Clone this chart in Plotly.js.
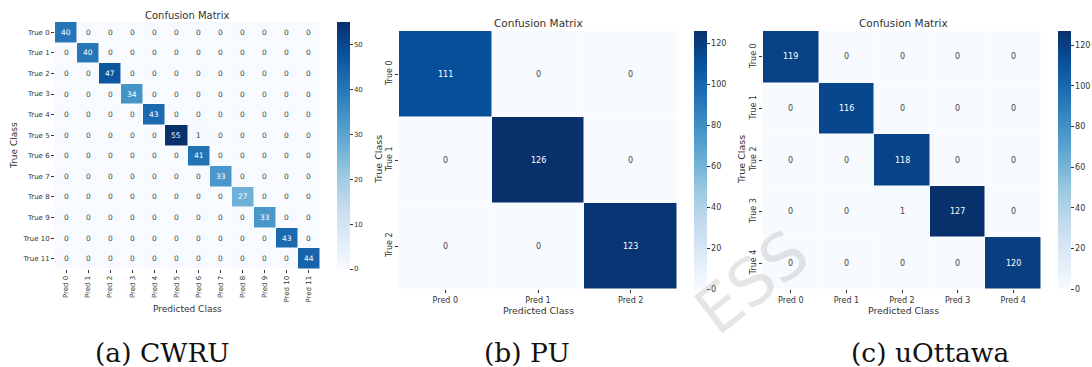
<!DOCTYPE html>
<html>
<head>
<meta charset="utf-8">
<script src="https://cdn.plot.ly/plotly-3.0.1.min.js"></script>
<style>html,body{margin:0;padding:0;background:#fff;}#chart{width:1092px;height:367px;}</style>
</head>
<body>
<div id="chart"></div>
<script>
// ---------- data ----------
const cwruPred = ["Pred 0","Pred 1","Pred 2","Pred 3","Pred 4","Pred 5","Pred 6","Pred 7","Pred 8","Pred 9","Pred 10","Pred 11"];
const cwruTrue = ["True 0","True 1","True 2","True 3","True 4","True 5","True 6","True 7","True 8","True 9","True 10","True 11"];
const cwruZ = [
  [40,0,0,0,0,0,0,0,0,0,0,0],
  [0,40,0,0,0,0,0,0,0,0,0,0],
  [0,0,47,0,0,0,0,0,0,0,0,0],
  [0,0,0,34,0,0,0,0,0,0,0,0],
  [0,0,0,0,43,0,0,0,0,0,0,0],
  [0,0,0,0,0,55,1,0,0,0,0,0],
  [0,0,0,0,0,0,41,0,0,0,0,0],
  [0,0,0,0,0,0,0,33,0,0,0,0],
  [0,0,0,0,0,0,0,0,27,0,0,0],
  [0,0,0,0,0,0,0,0,0,33,0,0],
  [0,0,0,0,0,0,0,0,0,0,43,0],
  [0,0,0,0,0,0,0,0,0,0,0,44]
];
const puPred = ["Pred 0","Pred 1","Pred 2"];
const puTrue = ["True 0","True 1","True 2"];
const puZ = [
  [111,0,0],
  [0,126,0],
  [0,0,123]
];
const uoPred = ["Pred 0","Pred 1","Pred 2","Pred 3","Pred 4"];
const uoTrue = ["True 0","True 1","True 2","True 3","True 4"];
const uoZ = [
  [119,0,0,0,0],
  [0,116,0,0,0],
  [0,0,118,0,0],
  [0,0,1,127,0],
  [0,0,0,0,120]
];
const panelTitles = ["Confusion Matrix","Confusion Matrix","Confusion Matrix"];
const captions = ["(a) CWRU","(b) PU","(c) uOttawa"];

// ---------- layout helpers ----------
const W = 1092, H = 367;
const px = x => x / W;
const py = y => 1 - y / H;
const FONT = "DejaVu Sans, sans-serif";
const TXT = "#333333";

const blues = [
  [0.0,"#f7fbff"],[0.125,"#deebf7"],[0.25,"#c6dbef"],[0.375,"#9ecae1"],
  [0.5,"#6baed6"],[0.625,"#4292c6"],[0.75,"#2171b5"],[0.875,"#08519c"],[1.0,"#08306b"]
];

const panels = [
  {x:cwruPred, y:cwruTrue, z:cwruZ, box:[55,320,22,269], cb:337, dtick:10, tf:7, cf:7.5, cbf:7,
   xa:'x', ya:'y', xang:-90, yang:0, title:[187,15,10], ytitle:[14,146,9], xtitle:[187,309,9], cap:[162,352]},
  {x:puPred, y:puTrue, z:puZ, box:[399,677,31,289], cb:694, dtick:20, tf:8, cf:8, cbf:8,
   xa:'x2', ya:'y2', xang:0, yang:-90, title:[538,23,10.5], ytitle:[378,160,9.5], xtitle:[538,310,9.3], cap:[527,352]},
  {x:uoPred, y:uoTrue, z:uoZ, box:[763,1041,31,289], cb:1058, dtick:20, tf:8, cf:8, cbf:8,
   xa:'x3', ya:'y3', xang:0, yang:-90, title:[903,23,10.5], ytitle:[741,160,9.5], xtitle:[903,310,9.3], cap:[930,352]}
];

const data = [];
const layout = {
  width: W, height: H,
  margin: {l:0, r:0, t:0, b:0, pad:0},
  paper_bgcolor: "#ffffff",
  plot_bgcolor: "#ffffff",
  font: {family: FONT, color: TXT},
  showlegend: false,
  annotations: []
};

panels.forEach((p, i) => {
  const zmax = Math.max(...p.z.flat());
  const [x0, x1, y0, y1] = p.box;
  data.push({
    type: "heatmap",
    x: p.x, y: p.y, z: p.z,
    xaxis: p.xa, yaxis: p.ya,
    colorscale: blues, zmin: 0, zmax: zmax,
    xgap: 0.5, ygap: 0.5,
    hoverinfo: "skip",
    colorbar: {
      thickness: 13, thicknessmode: "pixels",
      len: y1 - y0, lenmode: "pixels",
      x: px(p.cb), xanchor: "left", xref: "paper",
      y: py((y0 + y1) / 2), yanchor: "middle", yref: "paper",
      xpad: 0, ypad: 0, outlinewidth: 0,
      ticks: "outside", ticklen: 3, tickwidth: 1, tickcolor: TXT,
      tick0: 0, dtick: p.dtick,
      tickfont: {family: FONT, size: p.cbf, color: TXT}
    }
  });
  const sx = i === 0 ? "" : String(i + 1);
  layout["xaxis" + sx] = {
    domain: [px(x0), px(x1)], anchor: p.ya, type: "category",
    showgrid: false, zeroline: false, showline: false,
    ticks: "outside", ticklen: 3, tickwidth: 1, tickcolor: TXT,
    tickangle: p.xang, tickfont: {family: FONT, size: p.tf, color: TXT},
    fixedrange: true
  };
  layout["yaxis" + sx] = {
    domain: [py(y1), py(y0)], anchor: p.xa, type: "category",
    autorange: "reversed",
    showgrid: false, zeroline: false, showline: false,
    ticks: "outside", ticklen: 3, tickwidth: 1, tickcolor: TXT,
    tickangle: p.yang, tickfont: {family: FONT, size: p.tf, color: TXT},
    fixedrange: true
  };
  // cell values
  p.z.forEach((row, r) => row.forEach((v, c) => {
    layout.annotations.push({
      xref: p.xa, yref: p.ya, x: p.x[c], y: p.y[r],
      text: String(v), showarrow: false,
      font: {family: FONT, size: p.cf, color: (v / zmax) >= 0.45 ? "#ffffff" : "#444444"}
    });
  }));
  // titles
  layout.annotations.push({
    xref: "paper", yref: "paper", x: px(p.title[0]), y: py(p.title[1]),
    text: panelTitles[i], showarrow: false, xanchor: "center", yanchor: "middle",
    font: {family: FONT, size: p.title[2], color: TXT}
  });
  layout.annotations.push({
    xref: "paper", yref: "paper", x: px(p.ytitle[0]), y: py(p.ytitle[1]),
    text: "True Class", showarrow: false, textangle: -90, xanchor: "center", yanchor: "middle",
    font: {family: FONT, size: p.ytitle[2], color: TXT}
  });
  layout.annotations.push({
    xref: "paper", yref: "paper", x: px(p.xtitle[0]), y: py(p.xtitle[1]),
    text: "Predicted Class", showarrow: false, xanchor: "center", yanchor: "middle",
    font: {family: FONT, size: p.xtitle[2], color: TXT}
  });
  layout.annotations.push({
    xref: "paper", yref: "paper", x: px(p.cap[0]), y: py(p.cap[1]),
    text: captions[i], showarrow: false, xanchor: "center", yanchor: "middle",
    font: {family: "DejaVu Serif, serif", size: 26.5, color: "#111111"}
  });
});

// faint watermark
layout.annotations.push({
  xref: "paper", yref: "paper", x: px(752), y: py(282),
  text: "ESS", showarrow: false, textangle: -38, xanchor: "center", yanchor: "middle",
  font: {family: "DejaVu Sans, sans-serif", size: 64, color: "rgba(170,170,170,0.3)"}
});

Plotly.newPlot("chart", data, layout, {staticPlot: true, displayModeBar: false});
</script>
</body>
</html>
